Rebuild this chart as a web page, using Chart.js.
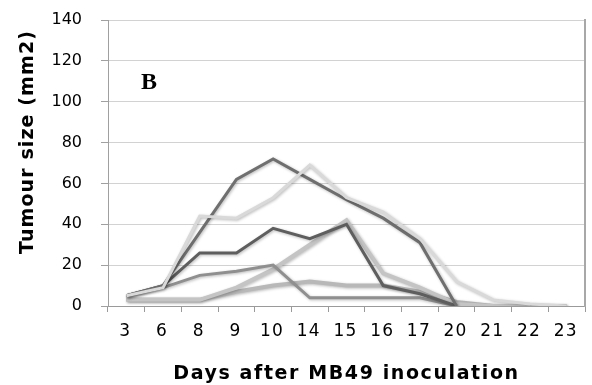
<!DOCTYPE html>
<html>
<head>
<meta charset="utf-8">
<script src="https://cdn.jsdelivr.net/npm/chart.js@4.4.0/dist/chart.umd.min.js"></script>
<style>
  html, body { margin: 0; padding: 0; background: #fff; }
  #wrap { position: relative; width: 592px; height: 385px; }
  #panel { position: absolute; left: 141px; top: 68px; font: bold 24px "Liberation Serif", serif; color: #000; }
</style>
</head>
<body>
<div id="wrap">
  <canvas id="c" width="592" height="385"></canvas>
  <div id="panel">B</div>
</div>
<script>
// Categories (days after inoculation)
const days = ['3', '6', '8', '9', '10', '14', '15', '16', '17', '20', '21', '22', '23'];

// Individual tumour growth curves (mm2)
const mouse1 = [5, 10, 36, 62, 72, 62, 52, 43, 31, 0, null, null, null];
const mouse2 = [5, 9, 44, 43, 53, 69, 53, 46, 33, 12, 3, 1, 0];
const mouse3 = [5, 10, 26, 26, 38, 33, 40, 10, 6, 0, null, null, null];
const mouse4 = [3, 3, 3, 9, 18, 30, 42, 16, 9, 1, 0, 0, null];
const mouse5 = [5, 9, 15, 17, 20, 4, 4, 4, 4, 0, null, null, null];
const mouse6 = [3, 3, 3, 7, 10, 12, 10, 10, 7, 2, 0, 0, 0];

const yMin = 0, yMax = 140, yStep = 20;

const shadow = {
  id: 'shadow',
  beforeDatasetDraw(chart) {
    const ctx = chart.ctx;
    ctx.save();
    ctx.shadowColor = 'rgba(0,0,0,0.28)';
    ctx.shadowBlur = 3;
    ctx.shadowOffsetX = 1;
    ctx.shadowOffsetY = 1;
  },
  afterDatasetDraw(chart) {
    chart.ctx.restore();
  }
};

// wider, Verdana-like text: letter spacing on a scale's title / labels
function spaced(scale, titleLS, labelLS, titleShiftY) {
  if (scale._spacedDone) return;
  scale._spacedDone = true;
  const proto = Object.getPrototypeOf(scale);
  scale.drawTitle = function () {
    const ctx = this.ctx;
    ctx.save();
    ctx.letterSpacing = titleLS;
    if (titleShiftY) ctx.translate(0, titleShiftY);
    proto.drawTitle.call(this);
    ctx.restore();
  };
  scale.drawLabels = function (a) {
    const ctx = this.ctx; const prev = ctx.letterSpacing;
    ctx.letterSpacing = labelLS; proto.drawLabels.call(this, a); ctx.letterSpacing = prev;
  };
}

const fam = '"DejaVu Sans", Verdana, sans-serif';
const titleFont = { family: fam, size: 19, weight: 'bold' };

function ds(data, color, width) {
  return { data, borderColor: color, borderWidth: width, pointRadius: 0, tension: 0, fill: false, spanGaps: false };
}

new Chart(document.getElementById('c'), {
  type: 'line',
  data: {
    labels: days,
    datasets: [
      ds(mouse2, '#d9d9d9', 3),
      ds(mouse1, '#6f6f6f', 3),
      ds(mouse3, '#5e5e5e', 3),
      ds(mouse5, '#8f8f8f', 3),
      ds(mouse4, '#c4c4c4', 4),
      ds(mouse6, '#b8b8b8', 4)
    ]
  },
  options: {
    responsive: false,
    animation: false,
    devicePixelRatio: 1,
    layout: { padding: { top: 20, left: 0, right: 0, bottom: 0 } },
    plugins: { legend: { display: false }, tooltip: { enabled: false } },
    scales: {
      x: {
        type: 'category',
        offset: true,
        grid: { offset: true, drawOnChartArea: false, drawTicks: true, tickLength: 6, tickColor: '#9a9a9a' },
        border: { color: '#9a9a9a', width: 1 },
        ticks: { font: { family: fam, size: 17 }, color: '#000', padding: 9, maxRotation: 0, autoSkip: false, labelOffset: -1 },
        title: { display: true, text: 'Days after MB49 inoculation', font: titleFont, color: '#000', padding: { top: 0, bottom: 0 } },
        afterFit(s) { s.height = 79; spaced(s, '1.6px', '1.2px', 0); }
      },
      y: {
        min: yMin, max: yMax,
        ticks: { stepSize: yStep, font: { family: fam, size: 16 }, color: '#000', padding: 19 },
        grid: { color: '#d2d2d2', tickColor: '#a0a0a0', tickLength: 7, drawTicks: true },
        border: { color: '#a0a0a0', width: 1 },
        title: { display: true, text: 'Tumour size (mm2)', align: 'end', font: titleFont, color: '#000', padding: { top: 17, bottom: 0 } },
        afterFit(s) { s.width = 108; s.paddingTop = 0; s.paddingBottom = 0; spaced(s, '1.1px', '0px', 10); }
      },
      yR: {
        position: 'right',
        grid: { display: false },
        ticks: { display: false },
        border: { display: true, color: '#a8a8a8', width: 2 },
        afterFit(s) { s.width = 7; s.paddingTop = 0; s.paddingBottom = 0; }
      }
    }
  },
  plugins: [shadow]
});
</script>
</body>
</html>
